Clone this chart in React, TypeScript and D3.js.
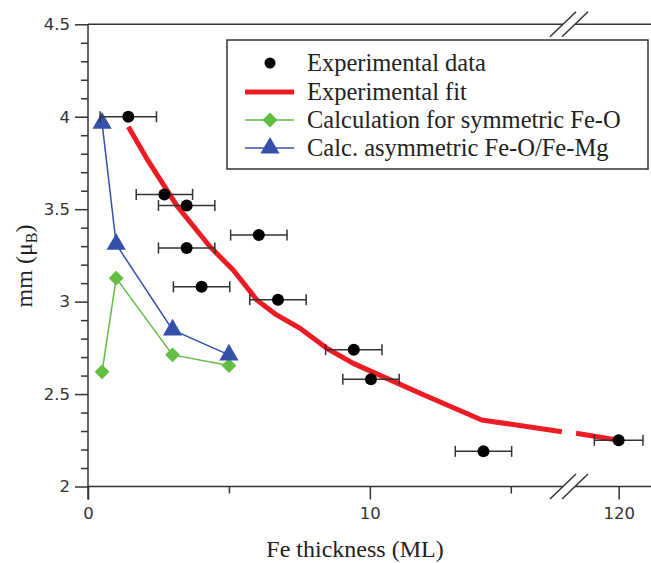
import React, { useRef, useEffect } from 'react';
import * as d3 from 'd3';

// experimental data: Fe thickness (ML), moment (uB), x error
const expX = [1.43, 2.71, 3.5, 6.06, 3.5, 4.03, 6.74, 9.43, 10.04, 14.03, 120];
const expY = [4.0, 3.58, 3.52, 3.36, 3.29, 3.08, 3.01, 2.74, 2.58, 2.19, 2.25];
const expErr = [1, 1, 1, 1, 1, 1, 1, 1, 1, 1, 1];

// experimental fit, split at the axis break
const fitX1 = [1.43, 2.08, 3.15, 4.33, 5.15, 5.99, 6.69, 7.52, 8.47, 9.41, 10.6, 11.78, 13.97, 16.81];
const fitY1 = [3.946, 3.775, 3.519, 3.297, 3.171, 3.009, 2.928, 2.856, 2.748, 2.666, 2.585, 2.504, 2.36, 2.296];
const fitX2 = [118.25, 120];
const fitY2 = [2.288, 2.25];

// calculations
const symX = [0.5, 1, 3, 5];
const symY = [2.62, 3.127, 2.712, 2.654];
const asymX = [0.5, 1, 3, 5];
const asymY = [3.965, 3.31, 2.847, 2.712];

const xMajor = [0, 10, 120];
const xMinor = [5, 15];
const yMajor = [2, 2.5, 3, 3.5, 4, 4.5];

const legendLabels = [
  'Experimental data',
  'Experimental fit',
  'Calculation for symmetric Fe-O',
  'Calc. asymmetric Fe-O/Fe-Mg',
];

const RED = '#ec1c24';
const GREEN = '#62bd45';
const BLUE = '#3550a8';
const AXIS = '#333';

const App = () => {
  const svgRef = useRef(null);

  useEffect(() => {
    const svg = d3.select(svgRef.current);
    svg.selectAll('*').remove();

    const x = d3
      .scaleLinear()
      .domain([0, 17.1, 118, 121.33])
      .range([88, 570, 570, 651]);
    const y = d3.scaleLinear().domain([2, 4.5]).range([486.5, 24.3]);

    const tickFont = 'DejaVu Sans, sans-serif';
    const serif = 'Liberation Serif, Times New Roman, serif';

    // y axis
    const yAxis = d3
      .axisLeft(y)
      .tickValues(yMajor)
      .tickSize(13)
      .tickPadding(5)
      .tickFormat((d) => String(d));
    const gy = svg.append('g').attr('transform', 'translate(88,0)').call(yAxis);
    gy.select('.domain').remove();
    gy.selectAll('.tick line').attr('stroke', AXIS).attr('stroke-width', 1.5);
    gy.selectAll('.tick text')
      .style('font-family', tickFont)
      .style('font-size', '16.5px')
      .attr('fill', AXIS);
    const yMinorAxis = d3
      .axisLeft(y)
      .tickValues(d3.range(21, 45).map((v) => v / 10).filter((v) => Math.round(v * 10) % 5 !== 0))
      .tickSize(7)
      .tickFormat(() => '');
    const gym = svg.append('g').attr('transform', 'translate(88,0)').call(yMinorAxis);
    gym.select('.domain').remove();
    gym.selectAll('.tick line').attr('stroke', AXIS).attr('stroke-width', 1.5);
    svg.append('line')
      .attr('x1', 88).attr('x2', 88)
      .attr('y1', y(4.5)).attr('y2', y(2) + 13)
      .attr('stroke', AXIS).attr('stroke-width', 1.5);

    // x axis
    const xAxis = d3
      .axisBottom(x)
      .tickValues(xMajor)
      .tickSize(13)
      .tickPadding(8)
      .tickFormat((d) => String(d));
    const gx = svg.append('g').attr('transform', `translate(0,${y(2)})`).call(xAxis);
    gx.select('.domain').remove();
    gx.selectAll('.tick line').attr('stroke', AXIS).attr('stroke-width', 1.5);
    gx.selectAll('.tick text')
      .style('font-family', tickFont)
      .style('font-size', '16.5px')
      .attr('fill', AXIS);
    const xMinorAxis = d3.axisBottom(x).tickValues(xMinor).tickSize(7).tickFormat(() => '');
    const gxm = svg.append('g').attr('transform', `translate(0,${y(2)})`).call(xMinorAxis);
    gxm.select('.domain').remove();
    gxm.selectAll('.tick line').attr('stroke', AXIS).attr('stroke-width', 1.5);

    // bottom and top frame lines with a break
    [y(2), y(4.5)].forEach((yy) => {
      svg.append('line').attr('x1', 88).attr('x2', 563).attr('y1', yy).attr('y2', yy)
        .attr('stroke', AXIS).attr('stroke-width', 1.5);
      svg.append('line').attr('x1', 575).attr('x2', 651).attr('y1', yy).attr('y2', yy)
        .attr('stroke', AXIS).attr('stroke-width', 1.5);
      [563, 575].forEach((cx) => {
        svg.append('line')
          .attr('x1', cx - 13).attr('y1', yy + 12.5)
          .attr('x2', cx + 13).attr('y2', yy - 12.5)
          .attr('stroke', AXIS).attr('stroke-width', 1.5);
      });
    });

    // experimental fit
    const line = d3.line().x((d) => x(d[0])).y((d) => y(d[1]));
    const fit1 = fitX1.map((v, i) => [v, fitY1[i]]);
    const fit2 = fitX2.map((v, i) => [v, fitY2[i]]);
    [fit1, fit2].forEach((seg) => {
      svg.append('path').datum(seg).attr('d', line)
        .attr('fill', 'none').attr('stroke', RED).attr('stroke-width', 5)
        .attr('stroke-linejoin', 'round');
    });

    // symmetric calc
    const sym = symX.map((v, i) => [v, symY[i]]);
    svg.append('path').datum(sym).attr('d', line)
      .attr('fill', 'none').attr('stroke', GREEN).attr('stroke-width', 1.5);
    const dia = d3.symbol().type(d3.symbolSquare).size(110);
    svg.selectAll('.dia').data(sym).enter().append('path')
      .attr('transform', (d) => `translate(${x(d[0])},${y(d[1])}) rotate(45)`)
      .attr('d', dia)
      .attr('fill', GREEN);

    // asymmetric calc
    const asym = asymX.map((v, i) => [v, asymY[i]]);
    svg.append('path').datum(asym).attr('d', line)
      .attr('fill', 'none').attr('stroke', BLUE).attr('stroke-width', 1.5);
    const tri = d3.symbol().type(d3.symbolTriangle).size(160);
    svg.selectAll('.tri').data(asym).enter().append('path')
      .attr('transform', (d) => `translate(${x(d[0])},${y(d[1])})`)
      .attr('d', tri)
      .attr('fill', BLUE);

    // experimental points with error bars
    const exp = expX.map((v, i) => ({ x: v, y: expY[i], e: expErr[i] }));
    const eg = svg.selectAll('.err').data(exp).enter().append('g');
    eg.append('line')
      .attr('x1', (d) => x(d.x - d.e)).attr('x2', (d) => x(d.x + d.e))
      .attr('y1', (d) => y(d.y)).attr('y2', (d) => y(d.y))
      .attr('stroke', AXIS).attr('stroke-width', 1.5);
    [-1, 1].forEach((s) => {
      eg.append('line')
        .attr('x1', (d) => x(d.x + s * d.e)).attr('x2', (d) => x(d.x + s * d.e))
        .attr('y1', (d) => y(d.y) - 5.5).attr('y2', (d) => y(d.y) + 5.5)
        .attr('stroke', AXIS).attr('stroke-width', 1.5);
    });
    eg.append('circle')
      .attr('cx', (d) => x(d.x)).attr('cy', (d) => y(d.y)).attr('r', 6)
      .attr('fill', '#000');

    // legend
    const lg = svg.append('g');
    lg.append('rect').attr('x', 227).attr('y', 40).attr('width', 421).attr('height', 129)
      .attr('fill', 'white').attr('stroke', AXIS).attr('stroke-width', 1.5);
    const rowY = [63, 92, 120, 148];
    lg.append('circle').attr('cx', 270).attr('cy', rowY[0]).attr('r', 5.5).attr('fill', '#000');
    lg.append('line').attr('x1', 245).attr('x2', 294).attr('y1', rowY[1]).attr('y2', rowY[1])
      .attr('stroke', RED).attr('stroke-width', 5);
    lg.append('line').attr('x1', 245).attr('x2', 294).attr('y1', rowY[2]).attr('y2', rowY[2])
      .attr('stroke', GREEN).attr('stroke-width', 1.5);
    lg.append('path').attr('transform', `translate(270,${rowY[2]}) rotate(45)`)
      .attr('d', dia).attr('fill', GREEN);
    lg.append('line').attr('x1', 245).attr('x2', 294).attr('y1', rowY[3]).attr('y2', rowY[3])
      .attr('stroke', BLUE).attr('stroke-width', 1.5);
    lg.append('path').attr('transform', `translate(270,${rowY[3]})`)
      .attr('d', tri).attr('fill', BLUE);
    lg.selectAll('.lt').data(legendLabels).enter().append('text')
      .attr('x', 307).attr('y', (d, i) => rowY[i] + 7.5)
      .style('font-family', serif).style('font-size', '24.5px')
      .attr('fill', '#222')
      .text((d) => d);

    // axis titles
    svg.append('text')
      .attr('x', 355).attr('y', 557)
      .attr('text-anchor', 'middle')
      .style('font-family', serif).style('font-size', '24px')
      .attr('fill', '#222')
      .text('Fe thickness (ML)');
    const yt = svg.append('text')
      .attr('transform', 'translate(32,266) rotate(-90)')
      .attr('text-anchor', 'middle')
      .style('font-family', serif).style('font-size', '24px')
      .attr('fill', '#222');
    yt.append('tspan').text('mm (μ');
    yt.append('tspan').attr('dy', 5).style('font-size', '16px').text('B');
    yt.append('tspan').attr('dy', -5).text(')');
  }, []);

  return (
    <svg
      ref={svgRef}
      width={651}
      height={563}
      style={{ position: 'absolute', left: 0, top: 0, background: 'white' }}
    ></svg>
  );
};

export default App;
